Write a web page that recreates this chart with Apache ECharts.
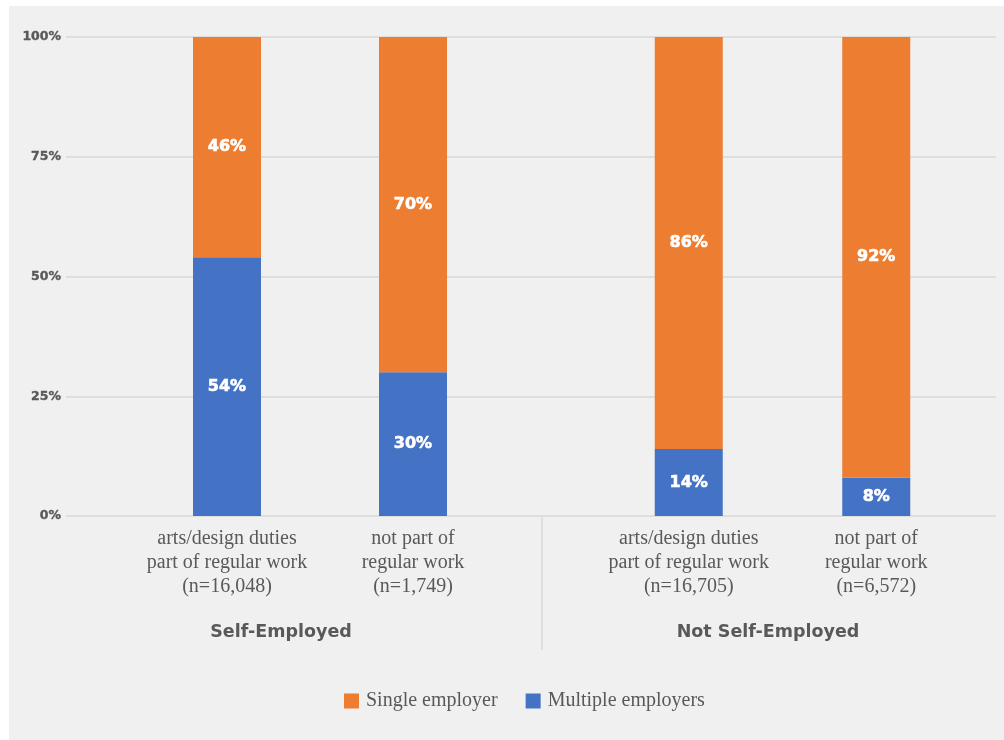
<!DOCTYPE html>
<html>
<head>
<meta charset="utf-8">
<script src="https://cdn.jsdelivr.net/npm/echarts@6/dist/echarts.min.js"></script>
<style>
  html, body { margin: 0; padding: 0; background: #ffffff; }
  #chart { width: 1004px; height: 740px; }
</style>
</head>
<body>
<div id="chart"></div>
<script>
// Share of workers by number of employers, split by self-employment status
const groups = ['Self-Employed', 'Not Self-Employed'];
const categories = [
  'arts/design duties\npart of regular work\n(n=16,048)',
  'not part of\nregular work\n(n=1,749)',
  'arts/design duties\npart of regular work\n(n=16,705)',
  'not part of\nregular work\n(n=6,572)'
];
const multipleEmployers = [54, 30, 14, 8];
const singleEmployer = [46, 70, 86, 92];
const yTicks = [0, 25, 50, 75, 100];

const BLUE = '#4472c4';
const ORANGE = '#ed7d31';
const TEXT = '#595959';
const GRIDLINE = '#d9d9d9';
const SERIF = '"Liberation Serif", "DejaVu Serif", serif';
const SANS_BOLD = '"DejaVu Sans", "Liberation Sans", sans-serif';

const chart = echarts.init(document.getElementById('chart'), null, { renderer: 'canvas' });

const plotTop = 37, plotBottom = 224;

function barSeries(name, values, color, gridIdx) {
  return {
    name: name,
    type: 'bar',
    stack: 'g' + gridIdx,
    xAxisIndex: gridIdx,
    yAxisIndex: gridIdx,
    barWidth: 68,
    data: values,
    itemStyle: { color: color },
    label: {
      show: true,
      position: 'inside',
      formatter: '{c}%',
      color: '#ffffff',
      fontFamily: SANS_BOLD,
      fontWeight: 'bold',
      fontSize: 16,
      textBorderColor: '#ffffff',
      textBorderWidth: 0.6
    }
  };
}

function catAxis(gridIdx, labels) {
  return {
    type: 'category',
    gridIndex: gridIdx,
    data: labels,
    axisLine: { show: false },
    axisTick: { show: false },
    axisLabel: {
      margin: 11,
      color: TEXT,
      fontFamily: SERIF,
      fontSize: 20,
      lineHeight: 24,
      interval: 0
    }
  };
}

function hiddenY(gridIdx) {
  return { type: 'value', gridIndex: gridIdx, min: 0, max: 100, show: false };
}

function groupLabel(text, x) {
  return {
    type: 'text', z: 5,
    style: {
      text: text, x: x, y: 632, align: 'center', verticalAlign: 'middle',
      font: 'bold 17.5px ' + SANS_BOLD, fill: TEXT
    }
  };
}

const option = {
  backgroundColor: '#ffffff',
  animation: false,
  graphic: [
    { type: 'rect', z: -10, shape: { x: 9, y: 6, width: 995, height: 734 }, style: { fill: '#f0f0f0' } },
    { type: 'line', z: 0, shape: { x1: 542, y1: 517, x2: 542, y2: 650 }, style: { stroke: GRIDLINE, lineWidth: 1.5 } },
    groupLabel(groups[0], 281),
    groupLabel(groups[1], 768)
  ],
  legend: {
    data: ['Single employer', 'Multiple employers'],
    left: 339,
    top: 686,
    itemWidth: 15,
    itemHeight: 15,
    itemGap: 28,
    icon: 'rect',
    textStyle: { color: TEXT, fontFamily: SERIF, fontSize: 20, padding: [0, 0, 0, 2] }
  },
  grid: [
    { left: 66, right: 8, top: plotTop, bottom: plotBottom },
    { left: 134, width: 372, top: plotTop, bottom: plotBottom },
    { left: 595, width: 375, top: plotTop, bottom: plotBottom }
  ],
  xAxis: [
    { type: 'value', gridIndex: 0, show: false, min: 0, max: 1 },
    catAxis(1, categories.slice(0, 2)),
    catAxis(2, categories.slice(2, 4))
  ],
  yAxis: [
    {
      type: 'value',
      gridIndex: 0,
      min: yTicks[0],
      max: yTicks[yTicks.length - 1],
      interval: 25,
      axisLine: { show: false },
      axisTick: { show: false },
      splitLine: { lineStyle: { color: GRIDLINE, width: 1.5 } },
      axisLabel: {
        formatter: '{value}%',
        color: TEXT,
        fontFamily: SANS_BOLD,
        fontWeight: 'bold',
        fontSize: 12.5,
        margin: 5,
        textBorderColor: TEXT,
        textBorderWidth: 0.4
      }
    },
    hiddenY(1),
    hiddenY(2)
  ],
  series: [
    barSeries('Multiple employers', multipleEmployers.slice(0, 2), BLUE, 1),
    barSeries('Single employer', singleEmployer.slice(0, 2), ORANGE, 1),
    barSeries('Multiple employers', multipleEmployers.slice(2, 4), BLUE, 2),
    barSeries('Single employer', singleEmployer.slice(2, 4), ORANGE, 2)
  ]
};

chart.setOption(option);
</script>
</body>
</html>
